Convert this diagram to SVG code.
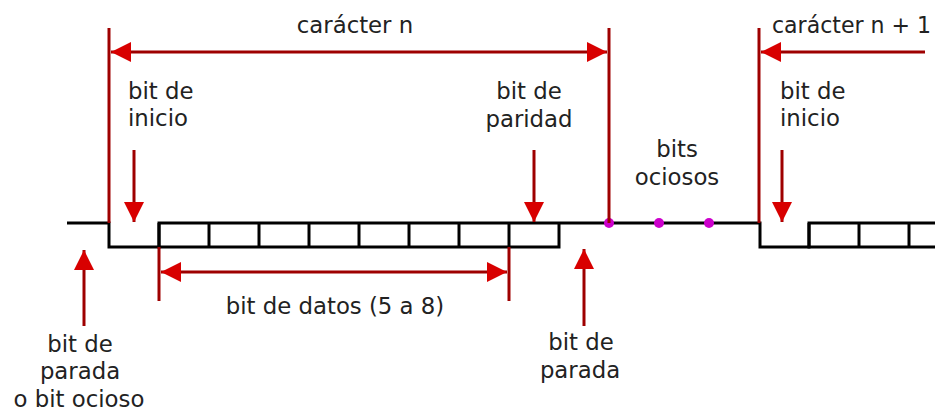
<svg xmlns="http://www.w3.org/2000/svg" width="935" height="411" viewBox="0 0 935 411">
  <style>
    .lbl { font-family: "DejaVu Sans", "Liberation Sans", sans-serif; font-size: 22.8px; fill: #222222; }
    .mid { text-anchor: middle; }
    .wave { fill: none; stroke: #000; stroke-width: 3; stroke-linejoin: miter; }
    .red { fill: none; stroke: #9e0000; stroke-width: 3; }
    .dot { fill: #cc00cc; }
  </style>
  <defs>
    <marker id="ah" viewBox="0 0 20 20" refX="20" refY="10" markerWidth="20" markerHeight="20" markerUnits="userSpaceOnUse" orient="auto-start-reverse">
      <path d="M0,0 L20,10 L0,20 z" fill="#d80000"/>
    </marker>
  </defs>
  <rect width="935" height="411" fill="#ffffff"/>

  <g id="waveform">
    <path class="wave" d="M67,223 H109 V247 H159 V223 H760 V247 H809 V223 H935"/>
    <path class="wave" d="M159,223 V247 H559 V223"/>
    <path class="wave" d="M209,223 V247 M259,223 V247 M309,223 V247 M359,223 V247 M409,223 V247 M459,223 V247 M509,223 V247"/>
    <path class="wave" d="M809,223 V247 H935 M859,223 V247 M909,223 V247"/>
  </g>

  <g id="idle-dots">
    <circle class="dot" cx="609" cy="223" r="5"/>
    <circle class="dot" cx="659" cy="223" r="5"/>
    <circle class="dot" cx="709" cy="223" r="5"/>
  </g>

  <g id="connectors">
    <line class="red" x1="109" y1="28" x2="109" y2="223"/>
    <line class="red" x1="609" y1="28" x2="609" y2="223"/>
    <line class="red" x1="759" y1="28" x2="759" y2="223"/>
    <line class="red" x1="111" y1="52" x2="607" y2="52" marker-start="url(#ah)" marker-end="url(#ah)"/>
    <line class="red" x1="925" y1="52" x2="761" y2="52" marker-end="url(#ah)"/>
    <line class="red" x1="134" y1="150" x2="134" y2="222" marker-end="url(#ah)"/>
    <line class="red" x1="534" y1="150" x2="534" y2="222" marker-end="url(#ah)"/>
    <line class="red" x1="782" y1="150" x2="782" y2="222" marker-end="url(#ah)"/>
    <line class="red" x1="84" y1="326" x2="84" y2="250" marker-end="url(#ah)"/>
    <line class="red" x1="584" y1="326" x2="584" y2="249" marker-end="url(#ah)"/>
    <line class="red" x1="159" y1="247" x2="159" y2="301"/>
    <line class="red" x1="509" y1="247" x2="509" y2="301"/>
    <line class="red" x1="161" y1="272" x2="507" y2="272" marker-start="url(#ah)" marker-end="url(#ah)"/>
  </g>

  <g id="caracter-n">
    <text class="lbl mid" x="355" y="33">carácter n</text>
  </g>
  <g id="caracter-n1">
    <text class="lbl" x="772" y="33" textLength="159" lengthAdjust="spacingAndGlyphs">carácter n + 1</text>
  </g>
  <g id="bit-inicio-1">
    <text class="lbl" x="128" y="99">bit de</text>
    <text class="lbl" x="128" y="126">inicio</text>
  </g>
  <g id="bit-paridad">
    <text class="lbl mid" x="529" y="99">bit de</text>
    <text class="lbl mid" x="529" y="127">paridad</text>
  </g>
  <g id="bits-ociosos">
    <text class="lbl mid" x="677" y="157">bits</text>
    <text class="lbl mid" x="677" y="185">ociosos</text>
  </g>
  <g id="bit-inicio-2">
    <text class="lbl" x="780" y="99">bit de</text>
    <text class="lbl" x="780" y="126">inicio</text>
  </g>
  <g id="bit-datos">
    <text class="lbl mid" x="335" y="314">bit de datos (5 a 8)</text>
  </g>
  <g id="bit-parada-ocioso">
    <text class="lbl mid" x="80" y="352">bit de</text>
    <text class="lbl mid" x="80" y="379">parada</text>
    <text class="lbl mid" x="79" y="407">o bit ocioso</text>
  </g>
  <g id="bit-parada">
    <text class="lbl mid" x="581" y="350">bit de</text>
    <text class="lbl mid" x="580" y="378">parada</text>
  </g>
</svg>
